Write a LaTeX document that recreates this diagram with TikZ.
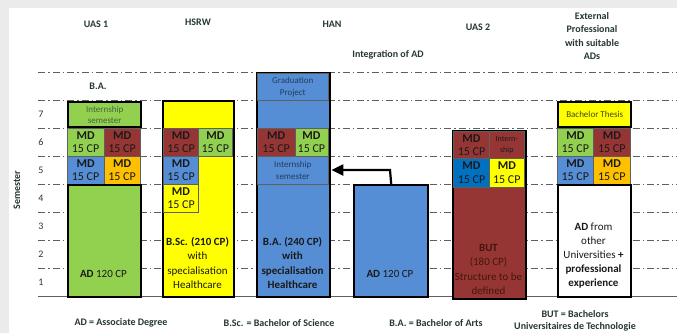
\documentclass[tikz,border=0pt]{standalone}
\usepackage{fontspec}
\setmainfont{Carlito}
\usetikzlibrary{arrows.meta}
\definecolor{mgreen}{RGB}{146,208,80}
\definecolor{mbrown}{RGB}{150,54,52}
\definecolor{mblue}{RGB}{85,142,213}
\definecolor{dblue}{RGB}{0,112,192}
\definecolor{morange}{RGB}{255,192,0}
\definecolor{myellow}{RGB}{255,255,0}
\definecolor{headc}{RGB}{38,56,48}
\definecolor{gridc}{RGB}{95,95,95}
\definecolor{bgrey}{RGB}{235,235,235}
\definecolor{buttxt}{RGB}{68,22,14}
\definecolor{greentxt}{RGB}{70,100,60}
\definecolor{bluetxt}{RGB}{35,60,95}
\definecolor{thesistxt}{RGB}{70,70,20}
\definecolor{celltxt}{RGB}{25,25,25}
\tikzset{
  gridline/.style={draw=gridc, line width=0.5pt, dash pattern=on 7pt off 3pt on 1.5pt off 3pt},
  box/.style={draw=black, line width=2.4pt, anchor=north west, inner sep=0pt, align=center},
  cell/.style={draw=gridc, line width=0.6pt, anchor=north west, inner sep=0pt, align=center,
    text=celltxt, font=\fontsize{12}{13.5}\selectfont},
  smalltxt/.style={font=\fontsize{9}{11.5}\selectfont},
  coltxt/.style={align=center, inner sep=0pt, text=celltxt, font=\fontsize{11}{14.2}\selectfont},
  headtxt/.style={align=center, inner sep=0pt, text=headc, font=\fontsize{10}{13.5}\selectfont\bfseries},
  numlab/.style={inner sep=0pt, text=headc, font=\fontsize{10}{12}\selectfont},
  linkarrow/.style={draw=black, line width=2.2pt, -{Triangle[length=12pt,width=11pt]}},
}
\begin{document}
\begin{tikzpicture}[x=1pt,y=-1pt]
\fill[bgrey] (0,0) rectangle (677,333);
\fill[white] (9,8) rectangle (677,333);
\useasboundingbox (0,0) rectangle (677,333);
% grid
\foreach \yy in {72,100,...,268} \draw[gridline] (38,\yy) -- (677,\yy);
\draw[gridc, line width=0.6pt] (38,296) -- (677,296);
\foreach \n in {1,...,7} \node[numlab] (s\n) at (41,{296-28*\n+14}) {\n};
\node[headtxt, rotate=90] (semlab) at (17,190) {Semester};
% headings
\node[headtxt] (h1) at (96,24) {UAS 1};
\node[headtxt] (h2) at (198,22) {HSRW};
\node[headtxt] (h3) at (332,24) {HAN};
\node[headtxt] (h4) at (388,55) {Integration of AD};
\node[headtxt] (h5) at (478,27) {UAS 2};
\node[headtxt] (h6) at (592,36) {External\\Professional\\with suitable\\ADs};
\node[headtxt] (ba) at (98,86) {B.A.};
% UAS 1
\node[box, fill=mgreen, minimum width=73pt, minimum height=25pt, smalltxt, text=greentxt] (u1int) at (67,101) {Internship\\semester};
\node[cell, fill=mgreen, minimum width=36.5pt, minimum height=28pt] (u1a) at (67,128) {\textbf{MD}\\15 CP};
\node[cell, fill=mbrown, minimum width=36.5pt, minimum height=28pt] (u1b) at (103.5,128) {\textbf{MD}\\15 CP};
\node[cell, fill=mblue, minimum width=36.5pt, minimum height=28pt] (u1c) at (67,156) {\textbf{MD}\\15 CP};
\node[cell, fill=morange, minimum width=36.5pt, minimum height=28pt] (u1d) at (103.5,156) {\textbf{MD}\\15 CP};
\node[box, fill=mgreen, minimum width=73pt, minimum height=112pt] (u1ad) at (67,184) {};
\node[coltxt] (u1adt) at (103.5,274) {\textbf{AD} 120 CP};
% HSRW
\node[box, fill=myellow, minimum width=71pt, minimum height=196pt] (hsrw) at (162,100) {};
\node[cell, fill=mbrown, minimum width=35pt, minimum height=28pt] (hsa) at (163.2,128) {\textbf{MD}\\15 CP};
\node[cell, fill=mgreen, minimum width=33.6pt, minimum height=28pt] (hsb) at (198.2,128) {\textbf{MD}\\15 CP};
\node[cell, fill=mblue, minimum width=35pt, minimum height=28pt] (hsc) at (163.2,156) {\textbf{MD}\\15 CP};
\node[cell, fill=myellow, minimum width=35pt, minimum height=28pt] (hsd) at (163.2,184) {\textbf{MD}\\15 CP};
\node[coltxt] (hsrwt) at (197.5,263) {\textbf{B.Sc. (210 CP)}\\with\\specialisation\\Healthcare};
% HAN
\node[box, fill=mblue, minimum width=73pt, minimum height=224pt] (han) at (256,72) {};
\node[cell, fill=mblue, minimum width=70.6pt, minimum height=26.8pt, smalltxt, text=bluetxt] (grad) at (257.2,73.2) {Graduation\\Project};
\node[cell, fill=mbrown, minimum width=37.3pt, minimum height=28pt] (hana) at (257.2,128) {\textbf{MD}\\15 CP};
\node[cell, fill=mgreen, minimum width=33.3pt, minimum height=28pt] (hanb) at (294.5,128) {\textbf{MD}\\15 CP};
\node[cell, fill=mblue, minimum width=70.6pt, minimum height=28pt, smalltxt, text=bluetxt] (hanint) at (257.2,156) {Internship\\semester};
\node[coltxt, font=\fontsize{11}{14.2}\selectfont\bfseries] (hant) at (292.5,263) {B.A. (240 CP)\\with\\specialisation\\Healthcare};
% UAS 2
\node[box, fill=mblue, minimum width=74pt, minimum height=112pt] (u2ad) at (353,184) {};
\node[coltxt] (u2adt) at (390,274) {\textbf{AD} 120 CP};
\coordinate (bend) at (390,170);
\draw[linkarrow] (u2ad.north) -- (bend) -- (bend -| han.east);
% BUT
\node[box, fill=mbrown, minimum width=73pt, minimum height=168pt] (but) at (452,130) {};
\node[cell, fill=mbrown, minimum width=36pt, minimum height=27pt] (buta) at (453.2,131.2) {\textbf{MD}\\15 CP};
\node[cell, fill=mbrown, minimum width=34.6pt, minimum height=27pt, font=\fontsize{8}{11}\selectfont] (butb) at (489.2,131.2) {Intern-\\ship};
\node[cell, fill=dblue, minimum width=36pt, minimum height=28.5pt] (butc) at (453.2,158.2) {\textbf{MD}\\15 CP};
\node[cell, fill=myellow, minimum width=34.6pt, minimum height=28.5pt] (butd) at (489.2,158.2) {\textbf{MD}\\15 CP};
\node[coltxt, text=buttxt] (butt) at (488.5,269.5) {\textbf{BUT}\\(180 CP)\\Structure to be\\defined};
% External
\node[box, fill=myellow, minimum width=73pt, minimum height=25pt, smalltxt, text=thesistxt] (thesis) at (557,101) {Bachelor Thesis};
\node[cell, fill=mgreen, minimum width=36pt, minimum height=28pt] (exa) at (557,128) {\textbf{MD}\\15 CP};
\node[cell, fill=mbrown, minimum width=37pt, minimum height=28pt] (exb) at (593,128) {\textbf{MD}\\15 CP};
\node[cell, fill=mblue, minimum width=36pt, minimum height=28pt] (exc) at (557,156) {\textbf{MD}\\15 CP};
\node[cell, fill=morange, minimum width=37pt, minimum height=28pt] (exd) at (593,156) {\textbf{MD}\\15 CP};
\node[box, fill=white, minimum width=73pt, minimum height=112pt] (extbox) at (557,184) {};
\node[coltxt] (extt) at (593.5,255.5) {\textbf{AD} from\\other\\Universities \textbf{+}\\\textbf{professional}\\\textbf{experience}};
% legend
\node[headtxt] (l1) at (121,323) {AD = Associate Degree};
\node[headtxt] (l2) at (279,323) {B.Sc. = Bachelor of Science};
\node[headtxt] (l3) at (436,323) {B.A. = Bachelor of Arts};
\node[headtxt, font=\fontsize{10}{12.5}\selectfont\bfseries] (l4) at (575,321) {BUT = Bachelors\\Universitaires de Technologie};
\end{tikzpicture}
\end{document}
